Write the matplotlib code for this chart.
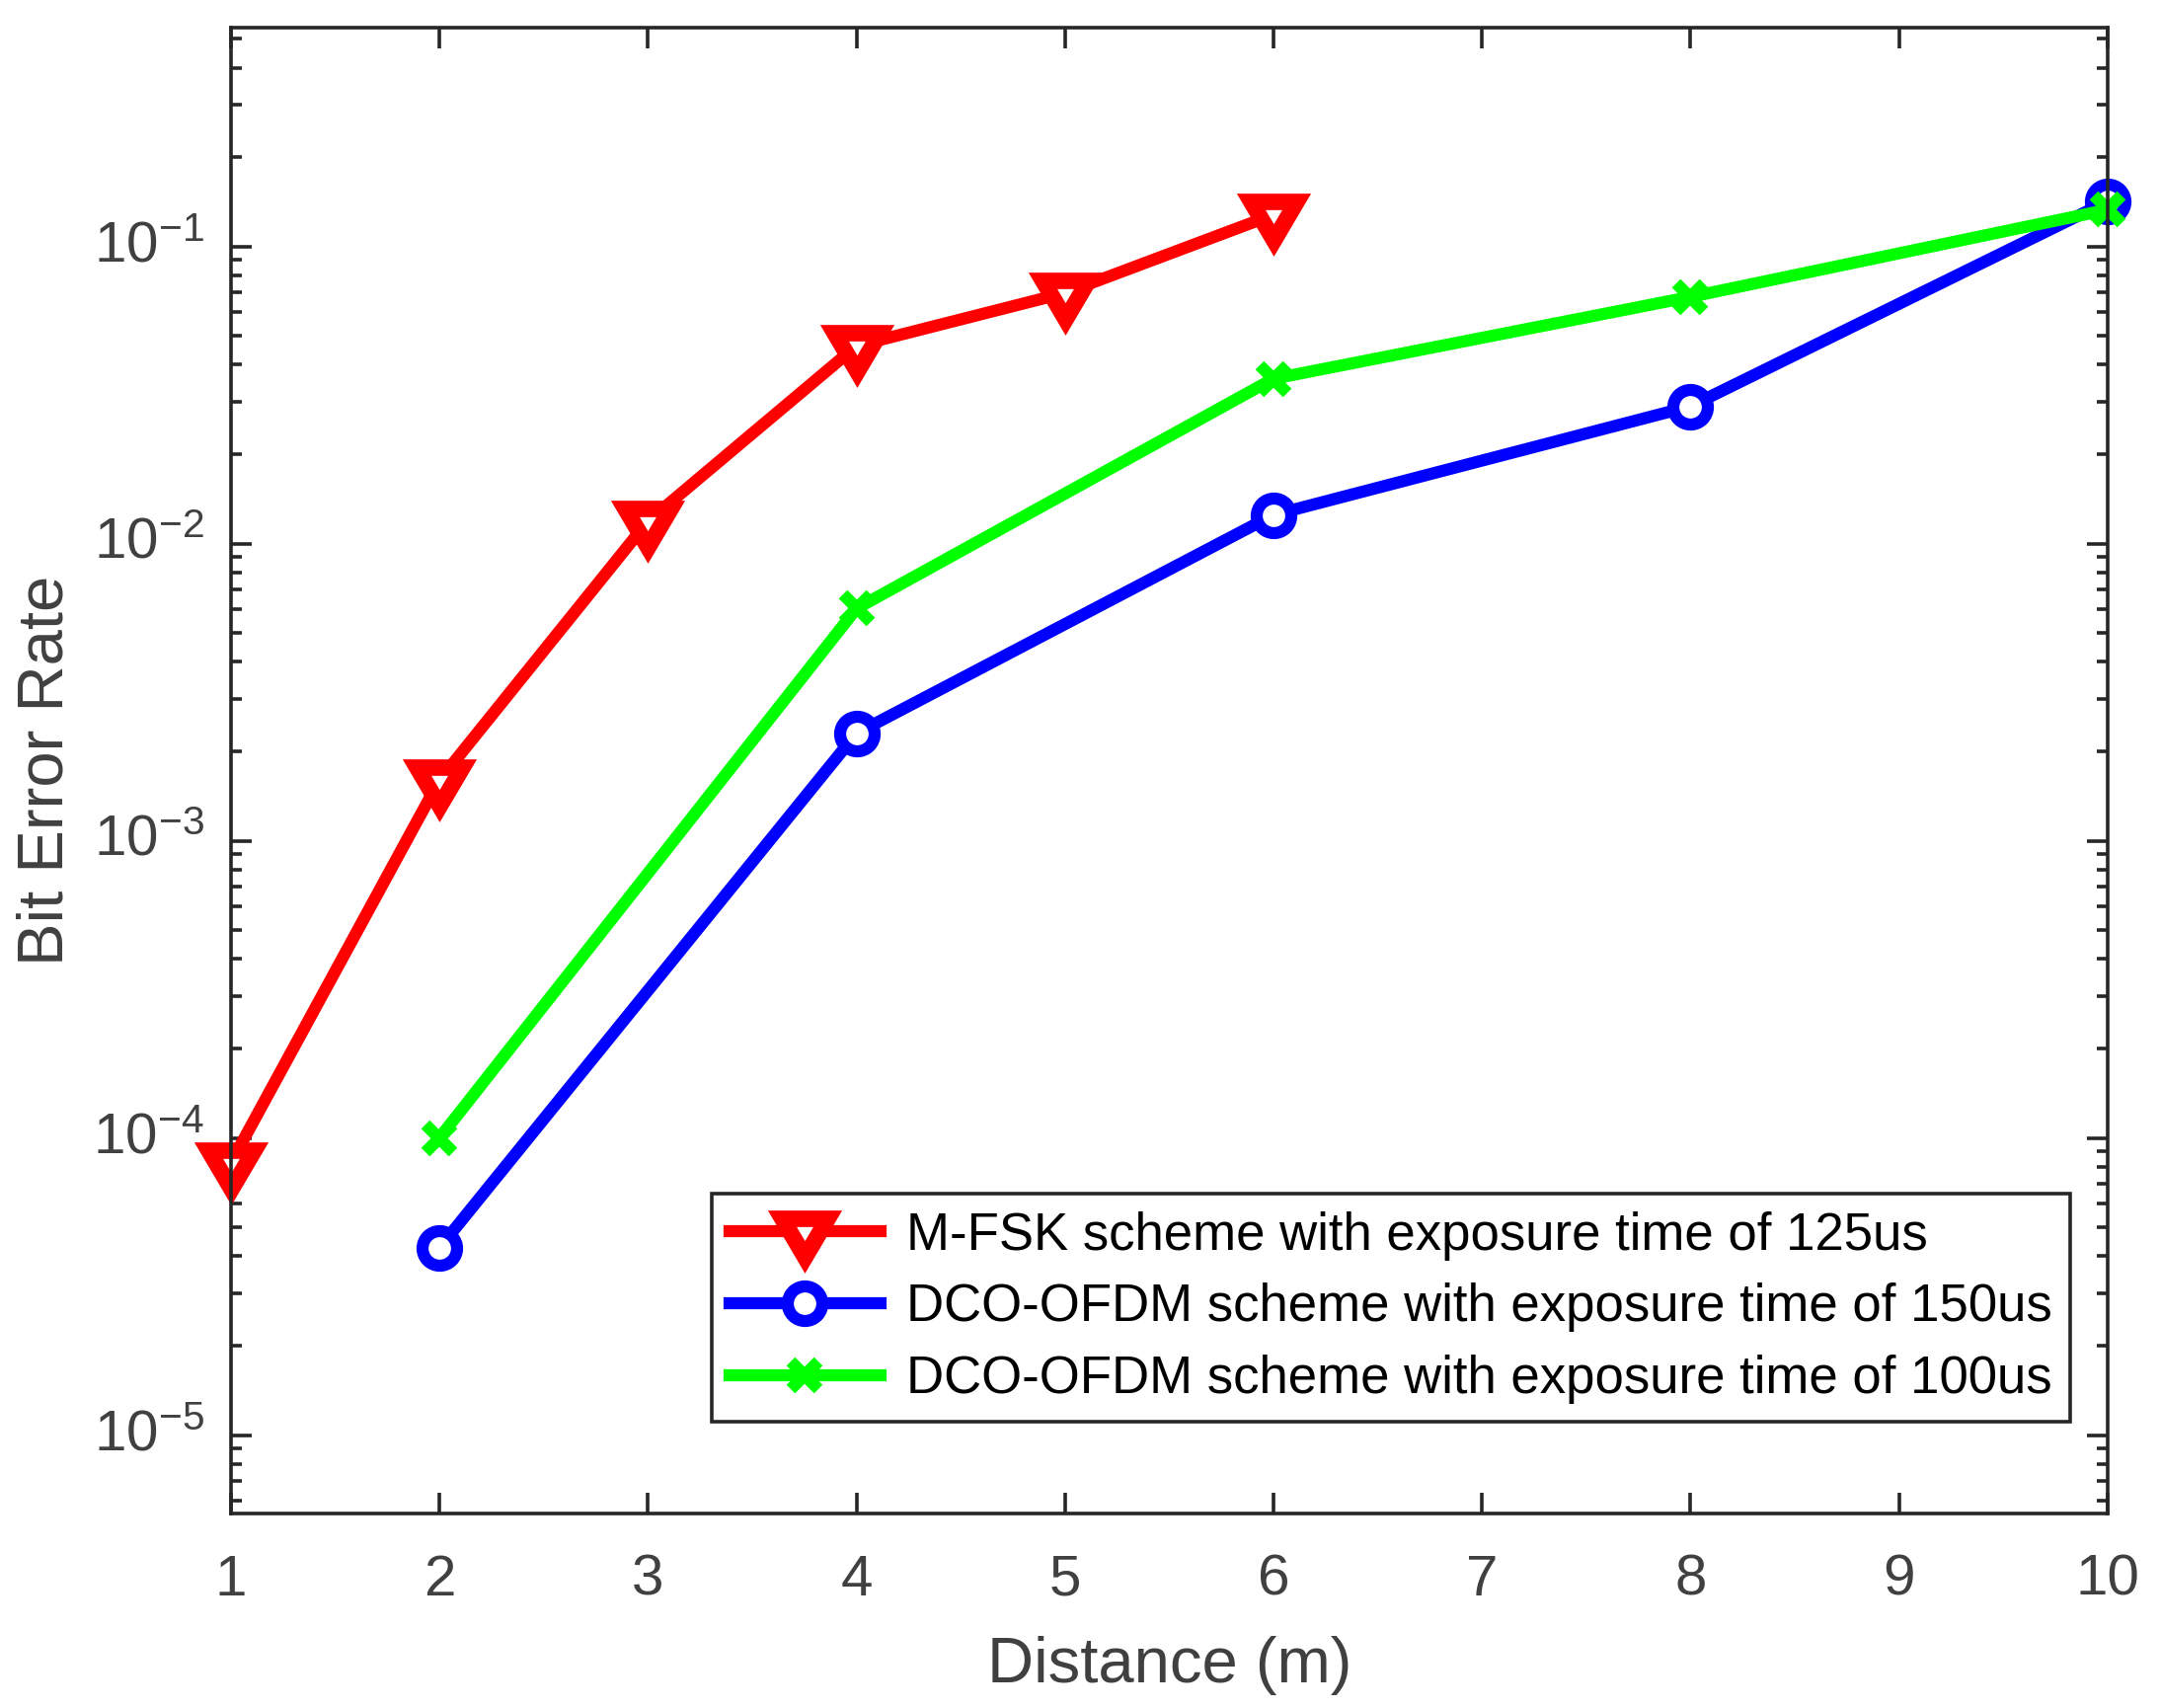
import matplotlib
matplotlib.use("Agg")
import matplotlib.pyplot as plt
from matplotlib.markers import MarkerStyle
from matplotlib.transforms import Affine2D
from matplotlib.ticker import LogLocator, NullFormatter

plt.rcParams["font.family"] = ["Liberation Sans", "DejaVu Sans"]
plt.rcParams["mathtext.fontset"] = "custom"
plt.rcParams["mathtext.rm"] = "Liberation Sans"
plt.rcParams["mathtext.it"] = "Liberation Sans"
plt.rcParams["mathtext.default"] = "regular"
plt.rcParams["axes.unicode_minus"] = False

# data
x_fsk = [1, 2, 3, 4, 5, 6]
ber_fsk_125 = [8.25e-5, 1.6e-3, 1.19e-2, 4.63e-2, 6.98e-2, 1.28e-1]
x_ofdm = [2, 4, 6, 8, 10]
ber_ofdm_150 = [4.27e-5, 2.3e-3, 1.25e-2, 2.9e-2, 1.42e-1]
ber_ofdm_100 = [1.0e-4, 6.05e-3, 3.59e-2, 6.77e-2, 1.33e-1]
labels = ["M-FSK scheme with exposure time of 125us",
          "DCO-OFDM scheme with exposure time of 150us",
          "DCO-OFDM scheme with exposure time of 100us"]

axis_c = "#262626"
tick_c = "#404040"
lw = 4.4

# equilateral down triangle centred on its centroid, like MATLAB's 'v'
tri_down = MarkerStyle("v", transform=Affine2D().translate(0, -1 / 6).scale(1, 0.866),
                       joinstyle="miter")

fig = plt.figure(figsize=(10.94, 8.65), dpi=200)
ax = fig.add_axes([0.1069, 0.1139, 0.8688, 0.870])

ax.semilogy(x_fsk, ber_fsk_125, "-", marker=tri_down, color="#FF0000",
            linewidth=lw, markersize=16.5, markerfacecolor="white",
            markeredgewidth=6, clip_on=False, label=labels[0])
ax.semilogy(x_ofdm, ber_ofdm_150, "-o", color="#0000FF", linewidth=lw,
            markersize=12.6, markerfacecolor="white", markeredgewidth=lw,
            clip_on=False, label=labels[1])
ax.semilogy(x_ofdm, ber_ofdm_100, "-x", color="#00FF00", linewidth=lw,
            markersize=10, markeredgewidth=lw, clip_on=False, label=labels[2])

ax.set_xlim(1, 10)
ax.set_ylim(5.45e-6, 0.546)
ax.set_xticks(range(1, 11))
ax.yaxis.set_major_locator(LogLocator(base=10, numticks=10))
ax.yaxis.set_minor_locator(LogLocator(base=10, subs=range(2, 10), numticks=20))
ax.yaxis.set_minor_formatter(NullFormatter())

ax.tick_params(which="both", direction="in", top=True, right=True,
               colors=axis_c, labelcolor=tick_c, labelsize=21, width=1.3)
ax.tick_params(which="major", length=7.5)
ax.tick_params(which="minor", length=4)
ax.tick_params(axis="x", which="major", pad=14.7)
ax.tick_params(axis="y", which="major", pad=9.7)
for t in ax.get_yticklabels():
    t.set_verticalalignment("center")
for s in ax.spines.values():
    s.set_color(axis_c)
    s.set_linewidth(1.3)

ax.set_xlabel("Distance (m)", fontsize=23.5, color=tick_c, labelpad=10.5)
ax.set_ylabel("Bit Error Rate", fontsize=23.5, color=tick_c, labelpad=6.3)

leg = ax.legend(loc="lower right", bbox_to_anchor=(0.980, 0.0618),
                fontsize=19, frameon=True, fancybox=False, framealpha=1,
                edgecolor=axis_c, handlelength=2.9, handletextpad=0.5,
                borderpad=0.34, labelspacing=0.43, borderaxespad=0)
leg.get_frame().set_linewidth(1.3)

fig.savefig("out.png", dpi=200, facecolor="white")
